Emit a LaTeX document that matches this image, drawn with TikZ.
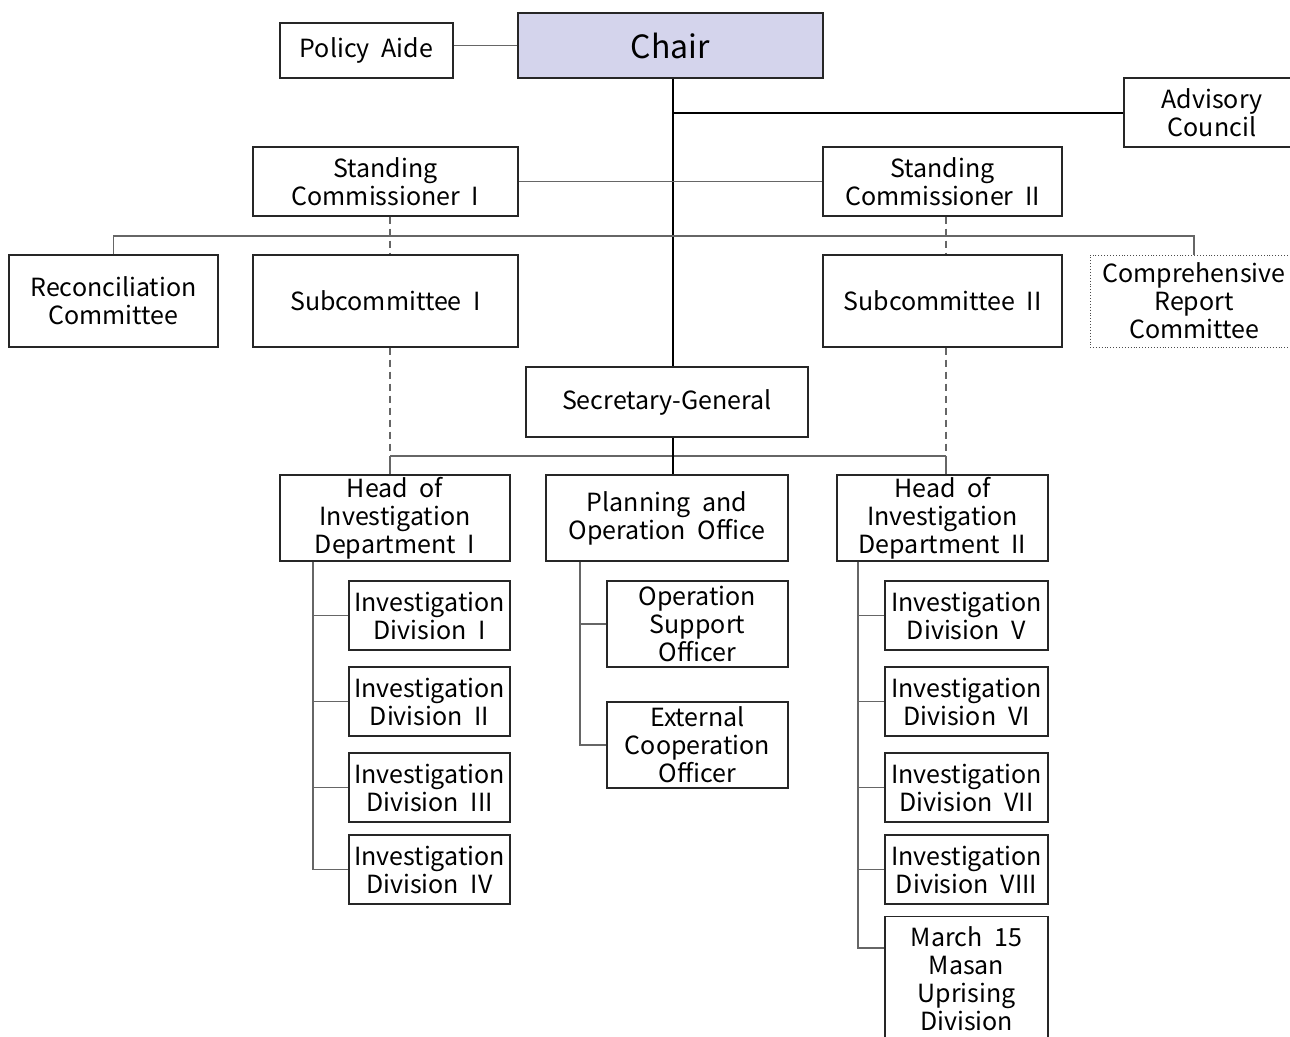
\documentclass[tikz,border=0pt]{standalone}
\usepackage{fontspec}
\setmainfont{Noto Sans CJK KR}[WordSpace=2.1]
\definecolor{chairfill}{RGB}{212,212,236}
\begin{document}
\begin{tikzpicture}[x=1pt,y=-1pt,
    box/.style={draw=black!85, line width=1.1pt, align=center, inner sep=0pt,
      font=\fontsize{25}{28}\selectfont},
    divbox/.style={box, minimum width=161pt, minimum height=69pt},
    link/.style={draw=black!60, line width=1.3pt},
    mainlink/.style={draw=black, line width=1.1pt},
    dashlink/.style={link, dash pattern=on 7pt off 5pt}]
\useasboundingbox (0,0) rectangle (1290,1036);

% Top level
\node[box, fill=chairfill, minimum width=305pt, minimum height=65pt,
  font=\fontsize{32}{34}\selectfont] (chair) at (670.5,45.5) {Chair};
\node[box, minimum width=173pt, minimum height=55pt] (aide) at (366.5,50.5) {Policy Aide};
\node[box, minimum width=176pt, minimum height=69pt] (adv) at (1212,112.5) {Advisory\\Council};

% Commissioners and committees
\node[box, minimum width=265pt, minimum height=69pt] (sc1) at (385.5,181.5) {Standing\\Commissioner I};
\node[box, minimum width=239pt, minimum height=69pt] (sc2) at (942.5,181.5) {Standing\\Commissioner II};
\node[box, minimum width=209pt, minimum height=92pt] (recon) at (113.5,301) {Reconciliation\\Committee};
\node[box, minimum width=265pt, minimum height=92pt] (sub1) at (385.5,301) {Subcommittee I};
\node[box, minimum width=239pt, minimum height=92pt] (sub2) at (942.5,301) {Subcommittee II};
\node[box, draw=black!70, line width=0.9pt, dotted, minimum width=208pt, minimum height=92pt]
  (report) at (1194,301) {Comprehensive\\Report\\Committee};

% Secretariat
\node[box, minimum width=282pt, minimum height=70pt] (sg) at (667,402) {Secretary-General};
\node[box, minimum width=230pt, minimum height=86pt] (head1) at (395,518) {Head of\\Investigation\\Department I};
\node[box, minimum width=242pt, minimum height=86pt] (plan) at (667,518) {Planning and\\Operation Office};
\node[box, minimum width=211pt, minimum height=86pt] (head2) at (942.5,518) {Head of\\Investigation\\Department II};

% Divisions
\foreach \n/\t/\y in {1/I/615.5, 2/II/701.5, 3/III/787.5, 4/IV/869.5}
  \node[divbox] (div\n) at (429.5,\y) {Investigation\\Division \t};
\foreach \n/\t/\y in {5/V/615.5, 6/VI/701.5, 7/VII/787.5, 8/VIII/869.5}
  \node[divbox, minimum width=163pt] (div\n) at (966.5,\y) {Investigation\\Division \t};
\node[box, minimum width=181pt, minimum height=86pt] (ops) at (697.5,624) {Operation\\Support\\Officer};
\node[box, minimum width=181pt, minimum height=86pt] (ext) at (697.5,745) {External\\Cooperation\\Officer};
\node[box, minimum width=163pt, minimum height=124pt, anchor=north] (masan) at (966.5,916)
  {March 15\\Masan\\Uprising\\Division};

% Connectors
\coordinate (trunk) at (673,113);
\coordinate (bar) at (0,236);
\coordinate (left) at (390,456);
\coordinate (right) at (946,456);
\draw[link] (chair.west) -- (chair.west -| aide.east);
\draw[mainlink] (chair.south -| trunk) -- (sg.north -| trunk);
\draw[mainlink] (trunk) -- (trunk -| adv.west);
\draw[link] (sc1.east) -- (sc2.west);
\draw[link] (recon.north) -- (recon.north |- bar) -- (report.north |- bar) -- (report.north);
\draw[dashlink] (sc1.south -| left) -- (sub1.north -| left);
\draw[dashlink] (sub1.south -| left) -- (left);
\draw[dashlink] (sc2.south -| right) -- (sub2.north -| right);
\draw[dashlink] (sub2.south -| right) -- (right);
\draw[link] (left) -- (right);
\draw[link] (left) -- (head1.north -| left);
\draw[link] (right) -- (head2.north -| right);
\draw[mainlink] (sg.south -| trunk) -- (plan.north -| trunk);

% Branches
\coordinate (spine1) at (313,0);
\coordinate (spine2) at (580,0);
\coordinate (spine3) at (858,948);
\draw[link] (head1.south -| spine1) -- (div4.west -| spine1) -- (div4.west);
\foreach \d in {div1,div2,div3}
  \draw[link] (\d.west -| spine1) -- (\d.west);
\draw[link] (plan.south -| spine2) -- (ext.west -| spine2) -- (ext.west);
\draw[link] (ops.west -| spine2) -- (ops.west);
\draw[link] (head2.south -| spine3) -- (spine3) -- (spine3 -| masan.west);
\foreach \d in {div5,div6,div7,div8}
  \draw[link] (\d.west -| spine3) -- (\d.west);
\end{tikzpicture}
\end{document}
